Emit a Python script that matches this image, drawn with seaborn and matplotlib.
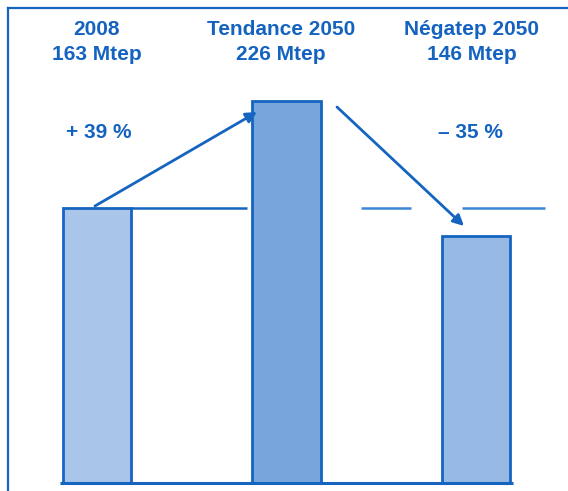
import matplotlib
matplotlib.use("Agg")
import matplotlib.pyplot as plt
import seaborn as sns

categories = ["2008", "Tendance 2050", "Négatep 2050"]
values = [163, 226, 146]
changes = ["+ 39 %", "– 35 %"]
unit = "Mtep"

bar_colors = ["#A9C6EA", "#78A6DC", "#97BAE5"]
blue = "#1563C0"
edge = "#1565C0"

sns.set_theme(style="white")
plt.rcParams["font.family"] = ["Liberation Sans", "DejaVu Sans"]

W, H = 568, 491
fig = plt.figure(figsize=(W / 100, H / 100), dpi=100)
# axes: left border at x=8px, top border at y=8px, spans to right/bottom edges
ax = fig.add_axes([8 / W, 0, (W - 8) / W, (H - 8) / H])

sns.barplot(x=categories, y=values, hue=categories, palette=bar_colors,
            legend=False, width=0.36, saturation=1, edgecolor=edge,
            linewidth=2.0, ax=ax)

# pixel -> data mapping (x: center of bar 0 at 97px, spacing 189.5px; y: baseline 483px, 1.69 px/unit)
def px2x(px):
    return (px - 97) / 189.5

def py2y(py):
    return (483 - py) / 1.69

ax.set_xlim(px2x(8), px2x(W))
ax.set_ylim(py2y(H), py2y(8))

for s in ["right", "bottom"]:
    ax.spines[s].set_visible(False)
for s in ["top", "left"]:
    ax.spines[s].set_color(edge)
    ax.spines[s].set_linewidth(1.6)
ax.set_xticks([])
ax.set_yticks([])
ax.set_xlabel("")
ax.set_ylabel("")

# baseline
ax.hlines(0, px2x(60), px2x(513), color=edge, lw=2.2, zorder=3)

# reference lines at 2008 level
ref = values[0]
ax.hlines(ref, px2x(130), px2x(247), color=edge, lw=1.8, zorder=3)
ax.hlines(ref, px2x(361), px2x(411), color="#3C86D6", lw=1.8, zorder=3)
ax.hlines(ref, px2x(462), px2x(545), color="#3C86D6", lw=1.8, zorder=3)

# arrows
arrow_kw = dict(arrowstyle="-|>", color=edge, lw=2.0, mutation_scale=16,
                shrinkA=0, shrinkB=0)
ax.annotate("", xy=(px2x(257), py2y(112)), xytext=(px2x(95), py2y(206)),
            arrowprops=arrow_kw, zorder=4)
ax.annotate("", xy=(px2x(464), py2y(226)), xytext=(px2x(337), py2y(107)),
            arrowprops=arrow_kw, zorder=4)

# header labels
header_x = [97, 281, 472]
for cat, val, hx in zip(categories, values, header_x):
    fig.text(hx / W, 1 - 42 / H, f"{cat}\n{val} {unit}", ha="center",
             va="center", fontsize=15, fontweight="bold", color=blue,
             linespacing=1.38)

# change labels
change_x = [99, 470]
for txt, cx in zip(changes, change_x):
    fig.text(cx / W, 1 - 132 / H, txt, ha="center", va="center",
             fontsize=15, fontweight="bold", color=blue)

fig.savefig("out.png", dpi=100)
